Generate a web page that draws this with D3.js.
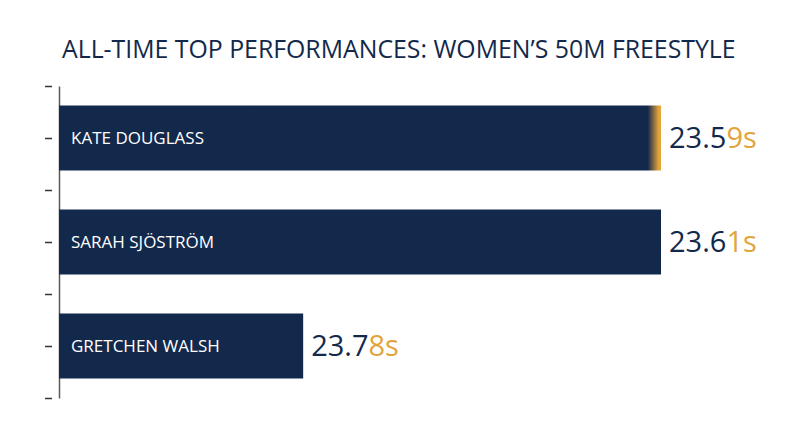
<!DOCTYPE html>
<html>
<head>
<meta charset="utf-8">
<script src="https://cdn.jsdelivr.net/npm/d3@7"></script>
<style>
  body { margin: 0; background: #fff; }
  text { font-family: "Open Sans", "Noto Sans", sans-serif; }
</style>
</head>
<body>
<div class="container"></div>
<script>
const title = "ALL-TIME TOP PERFORMANCES: WOMEN\u2019S 50M FREESTYLE";
const swimmers = ["KATE DOUGLASS", "SARAH SJÖSTRÖM", "GRETCHEN WALSH"];
const times = [23.59, 23.61, 23.78];
const highlight = [true, false, false];

d3.select(".container").call(chart);

function chart(container) {
  //size
  const width = 800;
  const height = 447;
  const margin = { left: 59, right: 139, top: 86, bottom: 49 };
  const navy = "#13294b";
  const gold = "#e2a43c";

  const data = swimmers.map((d, i) => ({ name: d, time: times[i], hl: highlight[i] }));

  const svg = container
    .append("svg")
    .attr("width", width)
    .attr("height", height);

  const defs = svg.append("defs");
  const grad = defs
    .append("linearGradient")
    .attr("id", "goldEdge")
    .attr("x1", 0)
    .attr("x2", 1)
    .attr("y1", 0)
    .attr("y2", 0);
  grad.append("stop").attr("offset", 0).attr("stop-color", navy);
  grad.append("stop").attr("offset", 0.978).attr("stop-color", navy);
  grad.append("stop").attr("offset", 0.996).attr("stop-color", gold);
  grad.append("stop").attr("offset", 1).attr("stop-color", gold);

  //scale
  const y = d3
    .scaleBand()
    .domain(swimmers)
    .range([margin.top, height - margin.bottom])
    .paddingInner(0.375)
    .paddingOuter(0.1875);

  // faster time -> longer bar
  const x = d3
    .scaleLinear()
    .domain([23.896, 23.61])
    .range([margin.left, width - margin.right])
    .clamp(true);

  // ticks on band edges and band centres
  const yTicks = d3
    .scaleLinear()
    .domain([0, swimmers.length * 2])
    .range([margin.top, height - margin.bottom]);

  //title
  svg
    .append("text")
    .attr("x", 62)
    .attr("y", 58)
    .attr("fill", navy)
    .attr("font-size", 25)
    .text(title)
    .call(fitWidth, 674);

  //axis
  const gAxis = svg
    .append("g")
    .attr("transform", `translate(${margin.left},0)`)
    .call(
      d3
        .axisLeft(yTicks)
        .tickValues(d3.range(0, swimmers.length * 2 + 1))
        .tickFormat("")
        .tickSizeOuter(0)
    );
  gAxis.select(".domain").attr("stroke", "#5a5a5a").attr("stroke-width", 1.5);
  gAxis
    .selectAll(".tick line")
    .attr("x1", -14)
    .attr("x2", -7)
    .attr("stroke", "#333")
    .attr("stroke-width", 1.5);

  //bars
  const gBar = svg
    .append("g")
    .selectAll("g")
    .data(data)
    .join("g");

  gBar
    .append("rect")
    .attr("x", x.range()[0])
    .attr("y", (d) => y(d.name))
    .attr("width", (d) => x(d.time) - x.range()[0])
    .attr("height", y.bandwidth())
    .attr("fill", (d) => (d.hl ? "url(#goldEdge)" : navy));

  gBar
    .append("text")
    .attr("x", x.range()[0] + 12)
    .attr("y", (d) => y(d.name) + y.bandwidth() / 2)
    .attr("dy", "0.36em")
    .attr("fill", "white")
    .attr("font-size", 17)
    .text((d) => d.name);

  const label = gBar
    .append("text")
    .attr("x", (d) => x(d.time) + 8)
    .attr("y", (d) => y(d.name) + y.bandwidth() / 2)
    .attr("dy", "0.36em")
    .attr("font-size", 29);

  label
    .append("tspan")
    .attr("fill", navy)
    .text((d) => d.time.toFixed(2).slice(0, -1));
  label
    .append("tspan")
    .attr("fill", gold)
    .text((d) => d.time.toFixed(2).slice(-1) + "s");
}

function fitWidth(text, target) {
  const w = text.node().getComputedTextLength();
  const size = +text.attr("font-size");
  text.attr("font-size", (size * target) / w);
}
</script>
</body>
</html>
